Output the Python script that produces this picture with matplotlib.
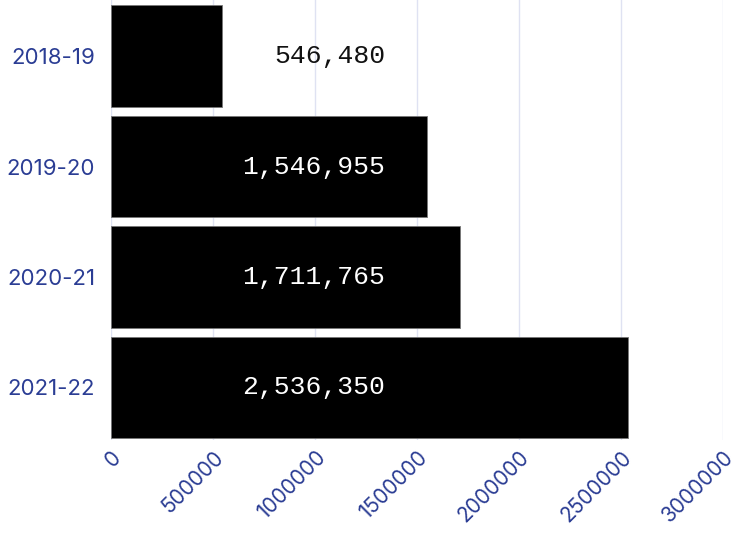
import matplotlib
matplotlib.use('Agg')
import matplotlib.pyplot as plt

seasons = ['2018-19', '2019-20', '2020-21', '2021-22']
values = [546480, 1546955, 1711765, 2536350]
label_colors = ['#111111', 'white', 'white', 'white']
xticks = [0, 500000, 1000000, 1500000, 2000000, 2500000, 3000000]

blue = '#2b3d94'

fig = plt.figure(figsize=(7.34, 5.35), dpi=100)
ax = fig.add_axes([111/734, 1 - 440/535, 612/734, 440/535])

ax.barh(range(len(seasons)), values, height=0.92, color='black',
        edgecolor='#777777', linewidth=0.6, zorder=2)

for i, v in enumerate(values):
    ax.text(1345000, i, f'{v:,}', ha='right', va='center',
            family='Liberation Mono', fontsize=19, color=label_colors[i], zorder=3)

ax.set_xlim(0, 3000000)
ax.set_ylim(3.476, -0.508)
ax.set_xticks(xticks)
ax.set_xticklabels([str(t) for t in xticks], rotation=45, ha='right',
                   rotation_mode='anchor', family='Inter', fontsize=15, color=blue)
ax.set_yticks(range(len(seasons)))
ax.set_yticklabels(seasons, family='Inter', fontsize=16, color=blue)
ax.tick_params(length=0)
ax.tick_params(axis='y', pad=11.5)
ax.tick_params(axis='x', pad=5)
ax.grid(axis='x', color='#dfe2f2', linewidth=1, zorder=0)
ax.set_axisbelow(True)
for s in ax.spines.values():
    s.set_visible(False)

plt.savefig('out.png', dpi=100)
